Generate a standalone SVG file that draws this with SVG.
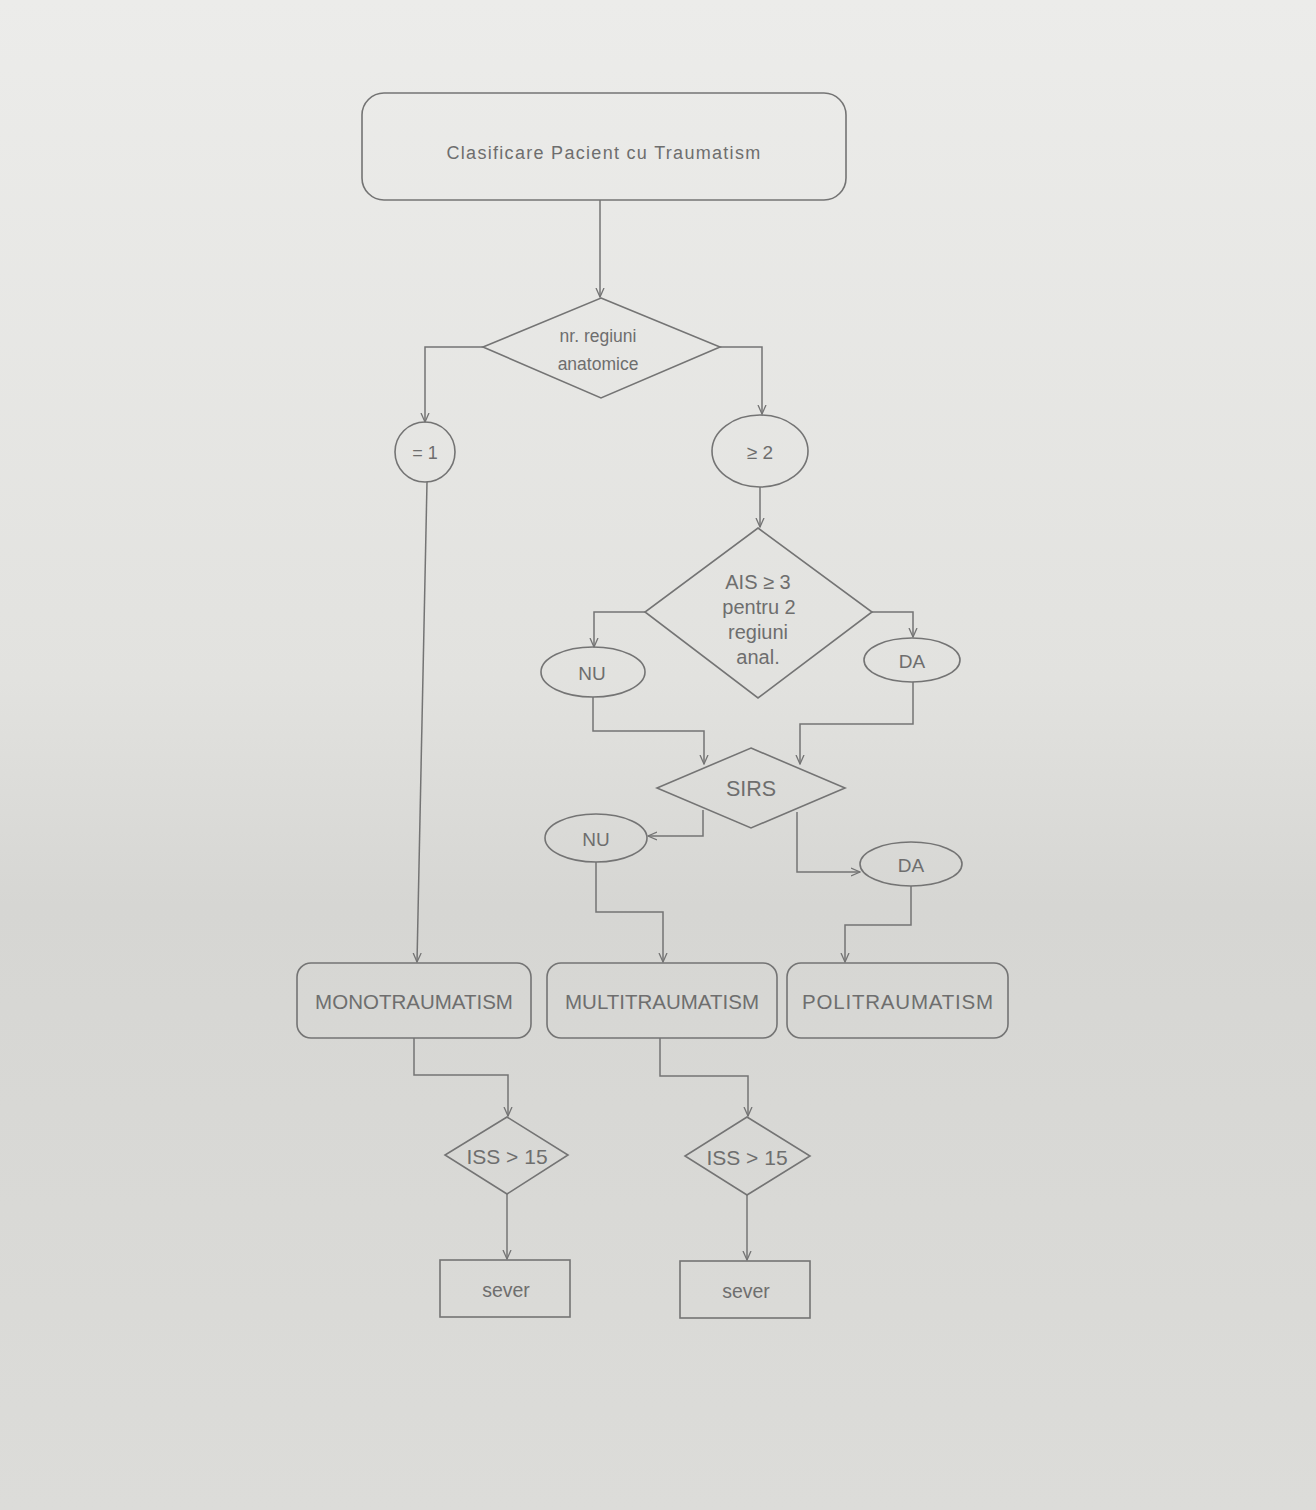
<svg xmlns="http://www.w3.org/2000/svg" width="1316" height="1510" viewBox="0 0 1316 1510">
<defs>
<linearGradient id="bg" x1="0" y1="0" x2="0" y2="1">
<stop offset="0" stop-color="#ececea"/>
<stop offset="0.45" stop-color="#e2e2df"/>
<stop offset="0.6" stop-color="#d6d6d3"/>
<stop offset="1" stop-color="#dcdcd9"/>
</linearGradient>
<marker id="arr" viewBox="0 0 10 10" refX="9" refY="5" markerWidth="10" markerHeight="10" markerUnits="userSpaceOnUse" orient="auto">
<path d="M0,1 L9,5 L0,9" fill="none" stroke="#747474" stroke-width="1.3"/>
</marker>
<style>
.s{fill:none;stroke:#747474;stroke-width:1.6}
.c{fill:none;stroke:#747474;stroke-width:1.5;marker-end:url(#arr)}
.t{font-family:"Liberation Sans",Arial,sans-serif;fill:#6e6e6e;text-anchor:middle;dominant-baseline:central}
</style>
</defs>
<rect width="1316" height="1510" fill="url(#bg)"/>
<g id="connectors">
<line class="c" x1="600" y1="200" x2="600" y2="297"/>
<polyline class="c" points="483,347 425,347 425,422"/>
<polyline class="c" points="720,347 762,347 762,414"/>
<line class="c" x1="760" y1="487" x2="760" y2="527"/>
<polyline class="c" points="645,612 594,612 594,647"/>
<polyline class="c" points="872,612 913,612 913,637"/>
<polyline class="c" points="593,697 593,731 704,731 704,764"/>
<polyline class="c" points="913,682 913,724 800,724 800,764"/>
<polyline class="c" points="703,810 703,836 648,836"/>
<polyline class="c" points="797,812 797,872 860,872"/>
<line class="c" x1="427" y1="482" x2="417" y2="962"/>
<polyline class="c" points="596,862 596,912 663,912 663,962"/>
<polyline class="c" points="911,886 911,925 845,925 845,962"/>
<polyline class="c" points="414,1038 414,1075 508,1075 508,1116"/>
<line class="c" x1="507" y1="1194" x2="507" y2="1259"/>
<polyline class="c" points="660,1038 660,1076 748,1076 748,1116"/>
<line class="c" x1="747" y1="1195" x2="747" y2="1260"/>
</g>
<g id="start">
<rect class="s" x="362" y="93" width="484" height="107" rx="22"/>
<text class="t" x="604" y="153" font-size="18" letter-spacing="1.3">Clasificare Pacient cu Traumatism</text>
</g>
<g id="d_regiuni">
<polygon class="s" points="601,298 720,347 601,398 483,347"/>
<text class="t" x="598" y="336" font-size="17.5">nr. regiuni</text>
<text class="t" x="598" y="364" font-size="17.5">anatomice</text>
</g>
<g id="eq1">
<ellipse class="s" cx="425" cy="452" rx="30" ry="30"/>
<text class="t" x="425" y="453" font-size="18">= 1</text>
</g>
<g id="ge2">
<ellipse class="s" cx="760" cy="451" rx="48" ry="36"/>
<text class="t" x="760" y="452" font-size="19">≥ 2</text>
</g>
<g id="d_ais">
<polygon class="s" points="758,528 872,612 758,698 645,612"/>
<text class="t" x="758" y="582" font-size="20">AIS ≥ 3</text>
<text class="t" x="759" y="607" font-size="20">pentru 2</text>
<text class="t" x="758" y="632" font-size="20">regiuni</text>
<text class="t" x="758" y="657" font-size="20">anal.</text>
</g>
<g id="nu1">
<ellipse class="s" cx="593" cy="672" rx="52" ry="25"/>
<text class="t" x="592" y="673" font-size="19">NU</text>
</g>
<g id="da1">
<ellipse class="s" cx="912" cy="660" rx="48" ry="22"/>
<text class="t" x="912" y="661" font-size="19">DA</text>
</g>
<g id="d_sirs">
<polygon class="s" points="751,748 845,788 751,828 657,788"/>
<text class="t" x="751" y="789" font-size="21.5">SIRS</text>
</g>
<g id="nu2">
<ellipse class="s" cx="596" cy="838" rx="51" ry="24"/>
<text class="t" x="596" y="839" font-size="19">NU</text>
</g>
<g id="da2">
<ellipse class="s" cx="911" cy="864" rx="51" ry="22"/>
<text class="t" x="911" y="865" font-size="19">DA</text>
</g>
<g id="mono">
<rect class="s" x="297" y="963" width="234" height="75" rx="14"/>
<text class="t" x="414" y="1001" font-size="20.5">MONOTRAUMATISM</text>
</g>
<g id="multi">
<rect class="s" x="547" y="963" width="230" height="75" rx="14"/>
<text class="t" x="662" y="1001" font-size="20.5">MULTITRAUMATISM</text>
</g>
<g id="poli">
<rect class="s" x="787" y="963" width="221" height="75" rx="14"/>
<text class="t" x="898" y="1001" font-size="20.5" letter-spacing="0.8">POLITRAUMATISM</text>
</g>
<g id="iss1">
<polygon class="s" points="507,1117 568,1155 507,1194 445,1155"/>
<text class="t" x="507" y="1156" font-size="21">ISS &gt; 15</text>
</g>
<g id="iss2">
<polygon class="s" points="747,1117 810,1156 747,1195 685,1156"/>
<text class="t" x="747" y="1157" font-size="21">ISS &gt; 15</text>
</g>
<g id="sever1">
<rect class="s" x="440" y="1260" width="130" height="57"/>
<text class="t" x="506" y="1290" font-size="19.5">sever</text>
</g>
<g id="sever2">
<rect class="s" x="680" y="1261" width="130" height="57"/>
<text class="t" x="746" y="1291" font-size="19.5">sever</text>
</g>
</svg>
